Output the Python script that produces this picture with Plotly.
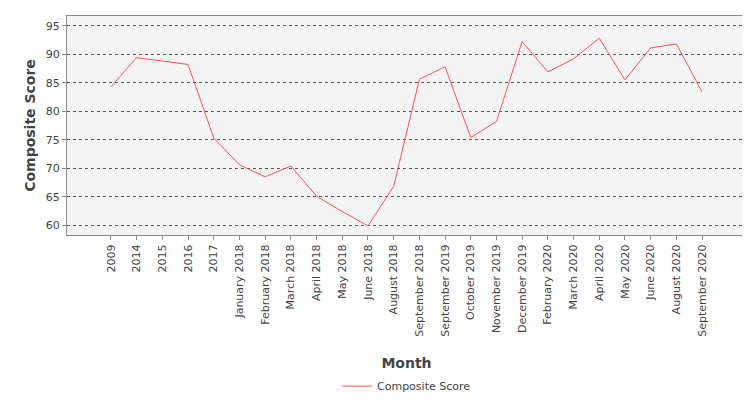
import plotly.graph_objects as go

months = ["2009", "2014", "2015", "2016", "2017", "January 2018", "February 2018", "March 2018",
          "April 2018", "May 2018", "June 2018", "August 2018", "September 2018", "September 2019",
          "October 2019", "November 2019", "December 2019", "February 2020", "March 2020",
          "April 2020", "May 2020", "June 2020", "August 2020", "September 2020"]
scores = [84.3, 89.4, 88.8, 88.2, 75.3, 70.6, 68.5, 70.4, 65.1, 62.4, 59.9, 66.8, 85.6, 87.8,
          75.4, 78.2, 92.2, 86.9, 89.2, 92.8, 85.5, 91.1, 91.8, 83.4]

fig = go.Figure()
fig.add_trace(go.Scatter(x=months, y=scores, mode="lines", name="Composite Score",
                         line=dict(color="#ff5555", width=1)))

fig.update_layout(
    width=750, height=400,
    margin=dict(l=59, r=12, t=8, b=167),
    paper_bgcolor="white", plot_bgcolor="#f4f4f4",
    font=dict(family="DejaVu Sans", size=11, color="#444"),
    showlegend=True,
    legend=dict(orientation="h", x=0.5, xanchor="center", y=-0.69, yanchor="middle",
                font=dict(size=11)),
)
fig.update_xaxes(
    type="category", range=[-1.71, 24.71], tickangle=-90, showgrid=False,
    ticks="outside", ticklen=4, tickcolor="#888", automargin=False,
    showline=True, linecolor="#888", mirror=True,
    title=dict(text="<b>Month</b>", font=dict(size=14, color="#444"), standoff=22),
)
fig.update_yaxes(
    range=[58.3, 96.7], dtick=5, ticks="outside", ticklen=4, tickcolor="#888",
    showgrid=True, gridcolor="#555", griddash="dot", gridwidth=1, zeroline=False,
    showline=True, linecolor="#888", mirror=True, automargin=False,
    title=dict(text="<b>Composite Score</b>", font=dict(size=14, color="#444"), standoff=6),
)

fig.write_html("out.html")
